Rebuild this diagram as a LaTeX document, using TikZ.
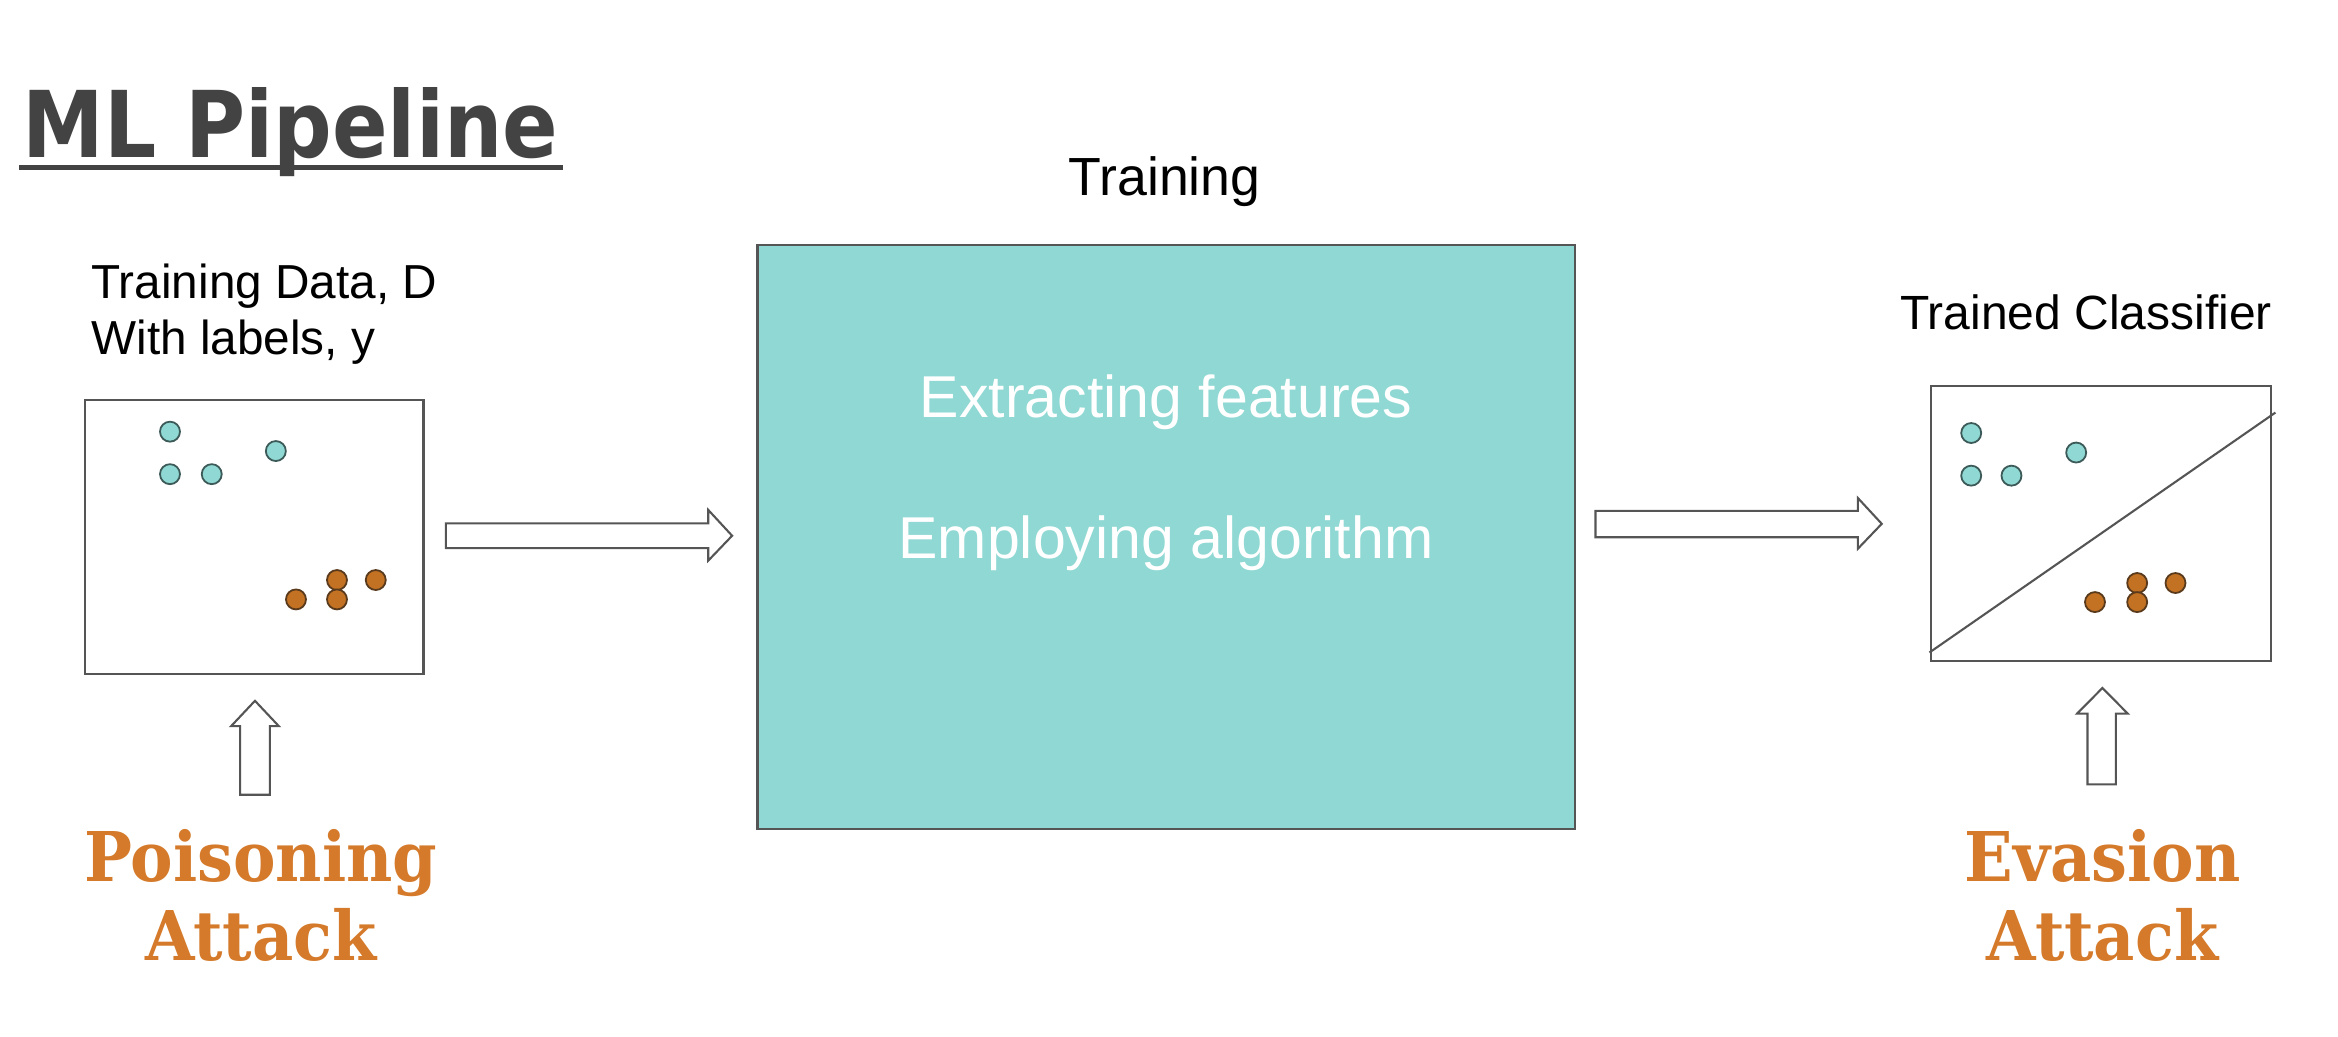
\documentclass[tikz,border=0pt]{standalone}
\usepackage{fontspec}
\setmainfont{Liberation Sans}
\newfontfamily\titlefont{DejaVu Sans}
\newfontfamily\attackfont{DejaVu Serif}
\definecolor{tealfill}{HTML}{8FD8D3}
\definecolor{edgegray}{HTML}{555555}
\definecolor{titlegray}{HTML}{434343}
\definecolor{attackorange}{HTML}{D47A2A}
\definecolor{dotbrown}{HTML}{C27222}
\definecolor{dotedgebrown}{HTML}{5A3A1C}
\definecolor{dotedgeteal}{HTML}{3C5A58}
\newcommand{\atk}[1]{\scalebox{0.93}[1]{#1}}
\tikzset{
  boxline/.style={draw=edgegray, line width=0.7pt},
  blockarrow/.style={draw=edgegray, line width=0.7pt, fill=white, line join=miter},
  tdot/.style={draw=dotedgeteal, fill=tealfill, line width=0.6pt},
  bdot/.style={draw=dotedgebrown, fill=dotbrown, line width=0.6pt},
  plaintext/.style={inner sep=0pt, text=black},
  attacktext/.style={inner sep=0pt, align=center, text=attackorange,
    font=\attackfont\bfseries\fontsize{23}{26.5}\selectfont},
}
\begin{document}
\begin{tikzpicture}[x=0.5pt,y=-0.5pt]
\useasboundingbox (0,0) rectangle (1568,695);

% title
\node[anchor=base west, inner sep=0pt, text=titlegray,
  font=\titlefont\bfseries\fontsize{30.9}{36}\selectfont] (title) at (15,105.4)
  {\scalebox{0.89}[1]{ML Pipeline}};
\draw[titlegray, line width=1.5pt] ([xshift=-1pt,yshift=-3.5pt]title.base west) -- ([xshift=1.5pt,yshift=-3.5pt]title.base east);

% training data (base anchor = last line)
\node[plaintext, anchor=base west, align=left, font=\fontsize{16}{19}\selectfont] (tdlabel) at (61,238)
  {Training Data, D\\With labels, y};
\draw[boxline, fill=white] (57,268) rectangle (284,452);
\foreach \p in {(114,289.5),(114,318),(142,318),(185,302.5)} \draw[tdot] \p circle (6.7);
\foreach \p in {(198.5,402),(226,389),(226,402),(252,389)} \draw[bdot] \p circle (6.7);

% arrow 1
\draw[blockarrow] (299,351) -- (475,351) -- (475,342) -- (491,359.3) -- (475,376) -- (475,367.6) -- (299,367.6) -- cycle;

% training box
\node[plaintext, anchor=base, font=\fontsize{18}{21}\selectfont] (trainlabel) at (781,131) {Training};
\draw[boxline, fill=tealfill] (508,164.4) rectangle (1056,556);
\node[plaintext, anchor=base, text=white, font=\fontsize{19.8}{23}\selectfont] (extract) at (782,280) {Extracting features};
\node[plaintext, anchor=base, text=white, font=\fontsize{19.8}{23}\selectfont] (employ) at (782,374.5) {Employing algorithm};

% arrow 2
\draw[blockarrow] (1070,342.6) -- (1246,342.6) -- (1246,334) -- (1262,351.3) -- (1246,368) -- (1246,360.3) -- (1070,360.3) -- cycle;

% trained classifier
\node[plaintext, anchor=base, font=\fontsize{16.1}{19}\selectfont] (tclabel) at (1399,221) {Trained Classifier};
\draw[boxline, fill=white] (1295,259) rectangle (1523,443);
\draw[edgegray, line width=0.7pt] (1294,437.6) -- (1526,276.7);
\foreach \p in {(1322,290.4),(1322,319),(1349,319),(1392.4,303.5)} \draw[tdot] \p circle (6.7);
\foreach \p in {(1405,403.8),(1433.3,391),(1433.3,403.8),(1459,391)} \draw[bdot] \p circle (6.7);

% up arrows
\draw[blockarrow] (161,533) -- (161,487) -- (155,487) -- (171,470) -- (187,487) -- (181,487) -- (181,533) -- cycle;
\draw[blockarrow] (1400,526) -- (1400,478.6) -- (1393,478.6) -- (1410,461.4) -- (1427,478.6) -- (1419,478.6) -- (1419,526) -- cycle;

% attack labels (base anchor = last line)
\node[attacktext, anchor=base] (poison) at (175,644) {\atk{Poisoning}\\\atk{Attack}};
\node[attacktext, anchor=base] (evasion) at (1410,644) {\atk{Evasion}\\\atk{Attack}};
\end{tikzpicture}
\end{document}
